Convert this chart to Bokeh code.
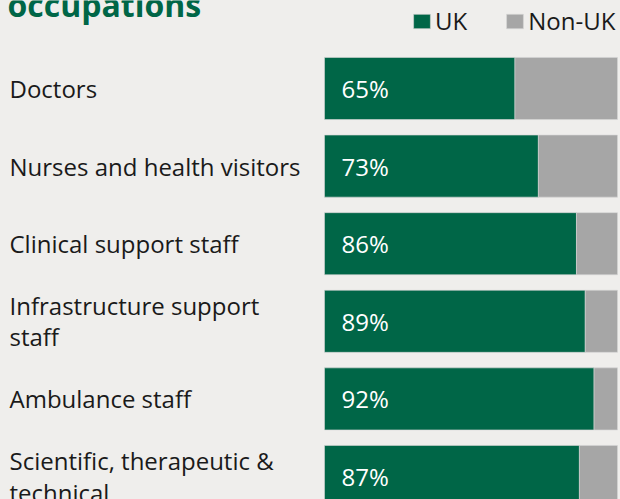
from bokeh.plotting import figure
from bokeh.models import (Range1d, ColumnDataSource, Legend, LegendItem, Label,
                          GlobalInlineStyleSheet)
from bokeh.core.properties import value
from bokeh.embed import file_html
from bokeh.resources import INLINE

# ---- data ----
categories = ["Doctors", "Nurses and health visitors", "Clinical support staff",
              "Infrastructure support\nstaff", "Ambulance staff",
              "Scientific, therapeutic &\ntechnical"]
uk = [65, 73, 86, 89, 92, 87]
non_uk = [35, 27, 14, 11, 8, 13]
series = ["UK", "Non-UK"]
title_text = "occupations"

# ---- style ----
BG = "#efeeec"
GREEN = "#006647"
GREY = "#a6a6a6"
FONT = "Open Sans"

W, H = 620, 499
bar_x0 = 324          # px where 0% sits
px_per_unit = 2.93    # px per percentage point
row_px = 77.6         # px between bar centres
first_center = 88     # px from top to first bar centre

x_start = -bar_x0 / px_per_unit
x_end = (W - bar_x0) / px_per_unit
y_top = -first_center / row_px
y_bottom = y_top + H / row_px

ys = list(range(len(categories)))
src = ColumnDataSource(dict(
    y=ys, uk=uk, non_uk=non_uk,
    total=[a + b for a, b in zip(uk, non_uk)],
    cat=categories, pct=[f"{v}%" for v in uk],
))

p = figure(width=W, height=H, x_range=Range1d(x_start, x_end),
           y_range=Range1d(y_bottom, y_top), x_axis_type=None, y_axis_type=None,
           output_backend="svg", toolbar_location=None, min_border=0,
           background_fill_color=BG, border_fill_color=BG, outline_line_color=None)
p.grid.visible = False
p.stylesheets = [GlobalInlineStyleSheet(css=f"body {{ background: {BG}; }}")]

r_uk = p.hbar(y="y", left=0, right="uk", height=0.8, source=src,
              fill_color=GREEN, line_color="#d6d6d6", line_width=1, line_alpha=0.6)
r_non = p.hbar(y="y", left="uk", right="total", height=0.8, source=src,
               fill_color=GREY, line_color="#d6d6d6", line_width=1, line_alpha=0.6)

p.text(x=0, y="y", text="cat", source=src, x_offset=-315, text_align="left",
       text_baseline="middle", text_font=value(FONT), text_font_size="24px",
       text_color="#1a1a1a", text_line_height=0.95)
p.text(x=0, y="y", text="pct", source=src, x_offset=17, text_align="left",
       text_baseline="middle", text_font=value(FONT), text_font_size="24px",
       text_color="white")

p.add_layout(Label(x=7, y=H - 4, x_units="screen", y_units="screen", text=title_text,
                   text_font=FONT, text_font_style="bold", text_font_size="32px",
                   text_color=GREEN, text_baseline="alphabetic"))

legend = Legend(items=[LegendItem(label=series[0], renderers=[r_uk]),
                       LegendItem(label=series[1], renderers=[r_non])],
                orientation="horizontal", location=(411, H - 37),
                glyph_width=21, glyph_height=18, label_height=18,
                label_standoff=3, spacing=37, padding=0, margin=0,
                border_line_color=None, background_fill_alpha=0,
                label_text_font=FONT, label_text_font_size="24px",
                label_text_color="#1a1a1a")
p.add_layout(legend)

open("out.html", "w").write(file_html(p, INLINE))
